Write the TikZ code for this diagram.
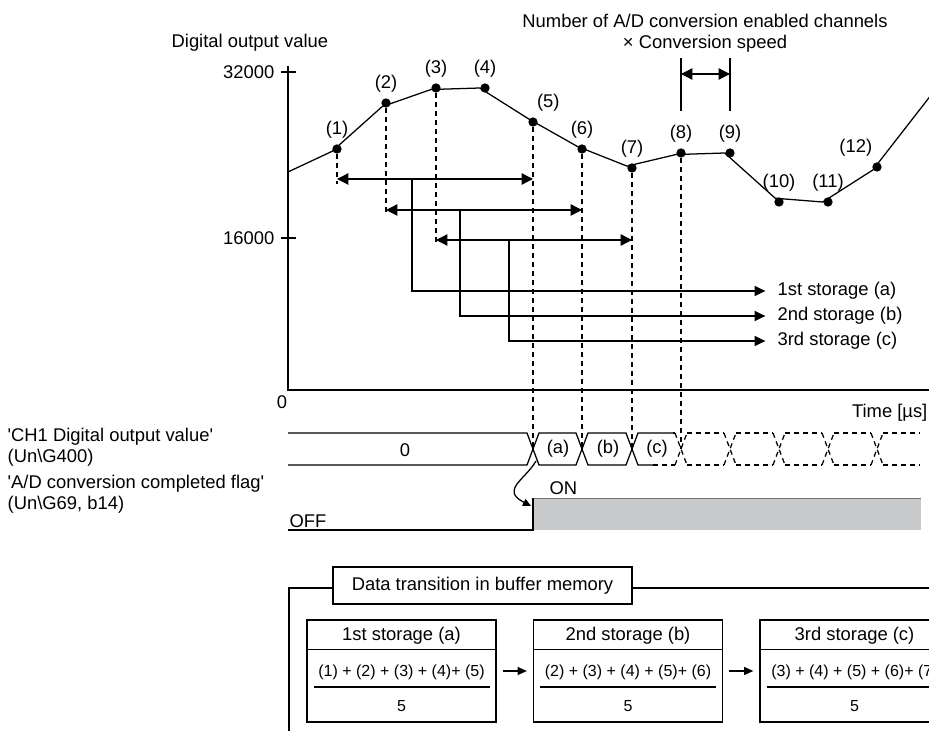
\documentclass[tikz,border=0pt]{standalone}
\usepackage{fontspec}
\setmainfont{Liberation Sans}
\usetikzlibrary{arrows.meta}

\tikzset{every picture/.style={line width=0.95pt}}
\tikzset{
  txt/.style={inner sep=0.75pt,font=\fontsize{13.8}{15.5}\selectfont},
  frac/.style={inner sep=0.75pt,font=\fontsize{12}{14}\selectfont},
  dot/.style args={#1@#2}{circle,fill=black,inner sep=0pt,minimum size=7pt,
    label={[txt,label distance=3pt]#2:{#1}}},
  drop/.style={dash pattern={on 3.75pt off 3pt}},
  tip/.style={-{Triangle[length=8pt,width=7.5pt]}},
  tips/.style={{Triangle[length=8.5pt,width=8.5pt]}-{Triangle[length=8.5pt,width=8.5pt]}},
  sbox/.style={draw,minimum width=141.75pt,minimum height=76.5pt,inner sep=0pt},
}
\definecolor{flaggray}{RGB}{200,201,203}

\begin{document}
\begin{tikzpicture}[x=0.75pt,y=0.75pt,yscale=-1,xscale=1]
\useasboundingbox (0,0) rectangle (929,731);
\clip (0,0) rectangle (929,731);

%Axes
\draw (288,66) -- (288,390) -- (929,390);
\draw (281,72) -- (296,72);
\draw (281,238) -- (296,238);

% Sampled values
\foreach \n/\x/\y/\a in {1/337/149/90, 2/386/103/90, 3/436/88/90, 4/485/88/90, 5/533/122/75,
  6/582/149/90, 7/632/168/90, 8/681/153/90, 9/730/153/90, 10/779/202/90, 11/828/202/90, 12/877/167/110}
  \node[dot={(\n)@\a}] (p\n) at (\x,\y) {};
\coordinate (c0) at (288,172);
\coordinate (c13) at (935,90);
\draw (c0) \foreach \n in {1,...,12} { -- (p\n) } -- (c13);

%Dashed drops
\draw[drop] (p1) -- (p1 |- 0,184);
\draw[drop] (p2) -- (p2 |- 0,214);
\draw[drop] (p3) -- (p3 |- 0,244);
\foreach \n in {5,...,8}
  \draw[drop] (p\n) -- (p\n |- 0,449);

%Averaging ranges
\draw[tips] (p1 |- 0,179) -- (p5 |- 0,179);
\draw[tips] (p2 |- 0,210) -- (p6 |- 0,210);
\draw[tips] (p3 |- 0,240) -- (p7 |- 0,240);

% Text Node
\node[txt,anchor=west] (st1) at (776,291) {1st storage (a)};
\node[txt,anchor=west] (st2) at (776,316) {2nd storage (b)};
\node[txt,anchor=west] (st3) at (776,341) {3rd storage (c)};
\draw[tip] (412,179) |- ([xshift=-8pt]st1.west);
\draw[tip] (460,210) |- ([xshift=-8pt]st2.west);
\draw[tip] (509,240) |- ([xshift=-8pt]st3.west);

%Conversion period
\draw (p8 |- 0,58) -- (p8 |- 0,111);
\draw (p9 |- 0,58) -- (p9 |- 0,111);
\draw[tips] (p8 |- 0,74) -- (p9 |- 0,74);
\node[txt,align=center] (spd) at (705,33) {Number of A/D conversion enabled channels\\\texttimes{} Conversion speed};

% Text Node
\node[txt,anchor=west] (yname) at (170,43) {Digital output value};
\node[txt,anchor=east] (y32) at (276,72) {32000};
\node[txt,anchor=east] (y16) at (276,238) {16000};
\node[txt] (y0) at (282,402) {0};
\node[txt,anchor=east] (tname) at (929,413) {Time [µs]};

%CH1 digital output value
\node[txt,anchor=west,align=left] (ch1) at (6,447) {\textquotesingle CH1 Digital output value\textquotesingle\\(Un\textbackslash G400)};
\draw (288,433) -- (527,433) -- (539,465) -- (576,465) -- (588,433) -- (626,433) -- (638,465) -- (653,465);
\draw (288,465) -- (527,465) -- (539,433) -- (576,433) -- (588,465) -- (626,465) -- (638,433) -- (673,433);
\draw[drop] (653,465) -- (675,465);
\draw[drop] (673,433) -- (675,433);
\foreach \x in {681,730,779,828,877} {
  \draw[drop] (\x-6,433) -- (\x+6,465);
  \draw[drop] (\x-6,465) -- (\x+6,433);
}
\foreach \a/\b in {687/724, 736/773, 785/822, 834/871, 883/920} {
  \draw[drop] (\a,433) -- (\b,433);
  \draw[drop] (\a,465) -- (\b,465);
}
\node[txt] (v0) at (405,450) {0};
\node[txt] (va) at (558,449) {(a)};
\node[txt] (vb) at (608,449) {(b)};
\node[txt] (vc) at (657,449) {(c)};

%A/D conversion completed flag
\node[txt,anchor=west,align=left] (flg) at (6,494) {\textquotesingle A/D conversion completed flag\textquotesingle\\(Un\textbackslash G69, b14)};
\fill[flaggray] (533,498) rectangle (921,530);
\draw[line width=0.5pt,black!55] (533,498) -- (921,498);
\draw (288,530) -- (533,530) -- (533,498);
\node[txt,anchor=south west] (off) at (288,529) {OFF};
\node[txt,anchor=west] (on) at (548,488) {ON};
\coordinate (xa) at (536,461);
\coordinate (fa) at (531,506);
\draw[-{Triangle[length=6pt,width=5.5pt]}] (xa) .. controls (525,480) and (500,490) .. (fa);

%Buffer memory
\node[draw,txt,minimum width=224.25pt,minimum height=27.75pt] (dtb) at (482.5,585.5) {Data transition in buffer memory};
\draw (289,740) -- (289,588) -- (dtb.west |- 289,588);
\draw (dtb.east |- 929,588) -- (929,588);

\foreach \n/\x/\hd/\num in {1/401.5/1st storage (a)/{(1) + (2) + (3) + (4)+ (5)},
  2/628/2nd storage (b)/{(2) + (3) + (4) + (5)+ (6)},
  3/854.5/3rd storage (c)/{(3) + (4) + (5) + (6)+ (7)}} {
  \node[sbox] (s\n) at (\x,671) {};
  \draw (s\n.north west) ++(0,30) -- ++(189,0);
  \node[txt] (h\n) at (\x,636) {\hd};
  \node[frac] (n\n) at (\x,672) {\num};
  \draw (\x-88,687) -- (\x+88,687);
  \node[frac] (d\n) at (\x,706) {5};
}
\draw[-{Triangle[length=7pt,width=6pt]},shorten <=4.5pt,shorten >=4.5pt] (s1.east) -- (s2.west);
\draw[-{Triangle[length=7pt,width=6pt]},shorten <=4.5pt,shorten >=4.5pt] (s2.east) -- (s3.west);

\end{tikzpicture}
\end{document}
